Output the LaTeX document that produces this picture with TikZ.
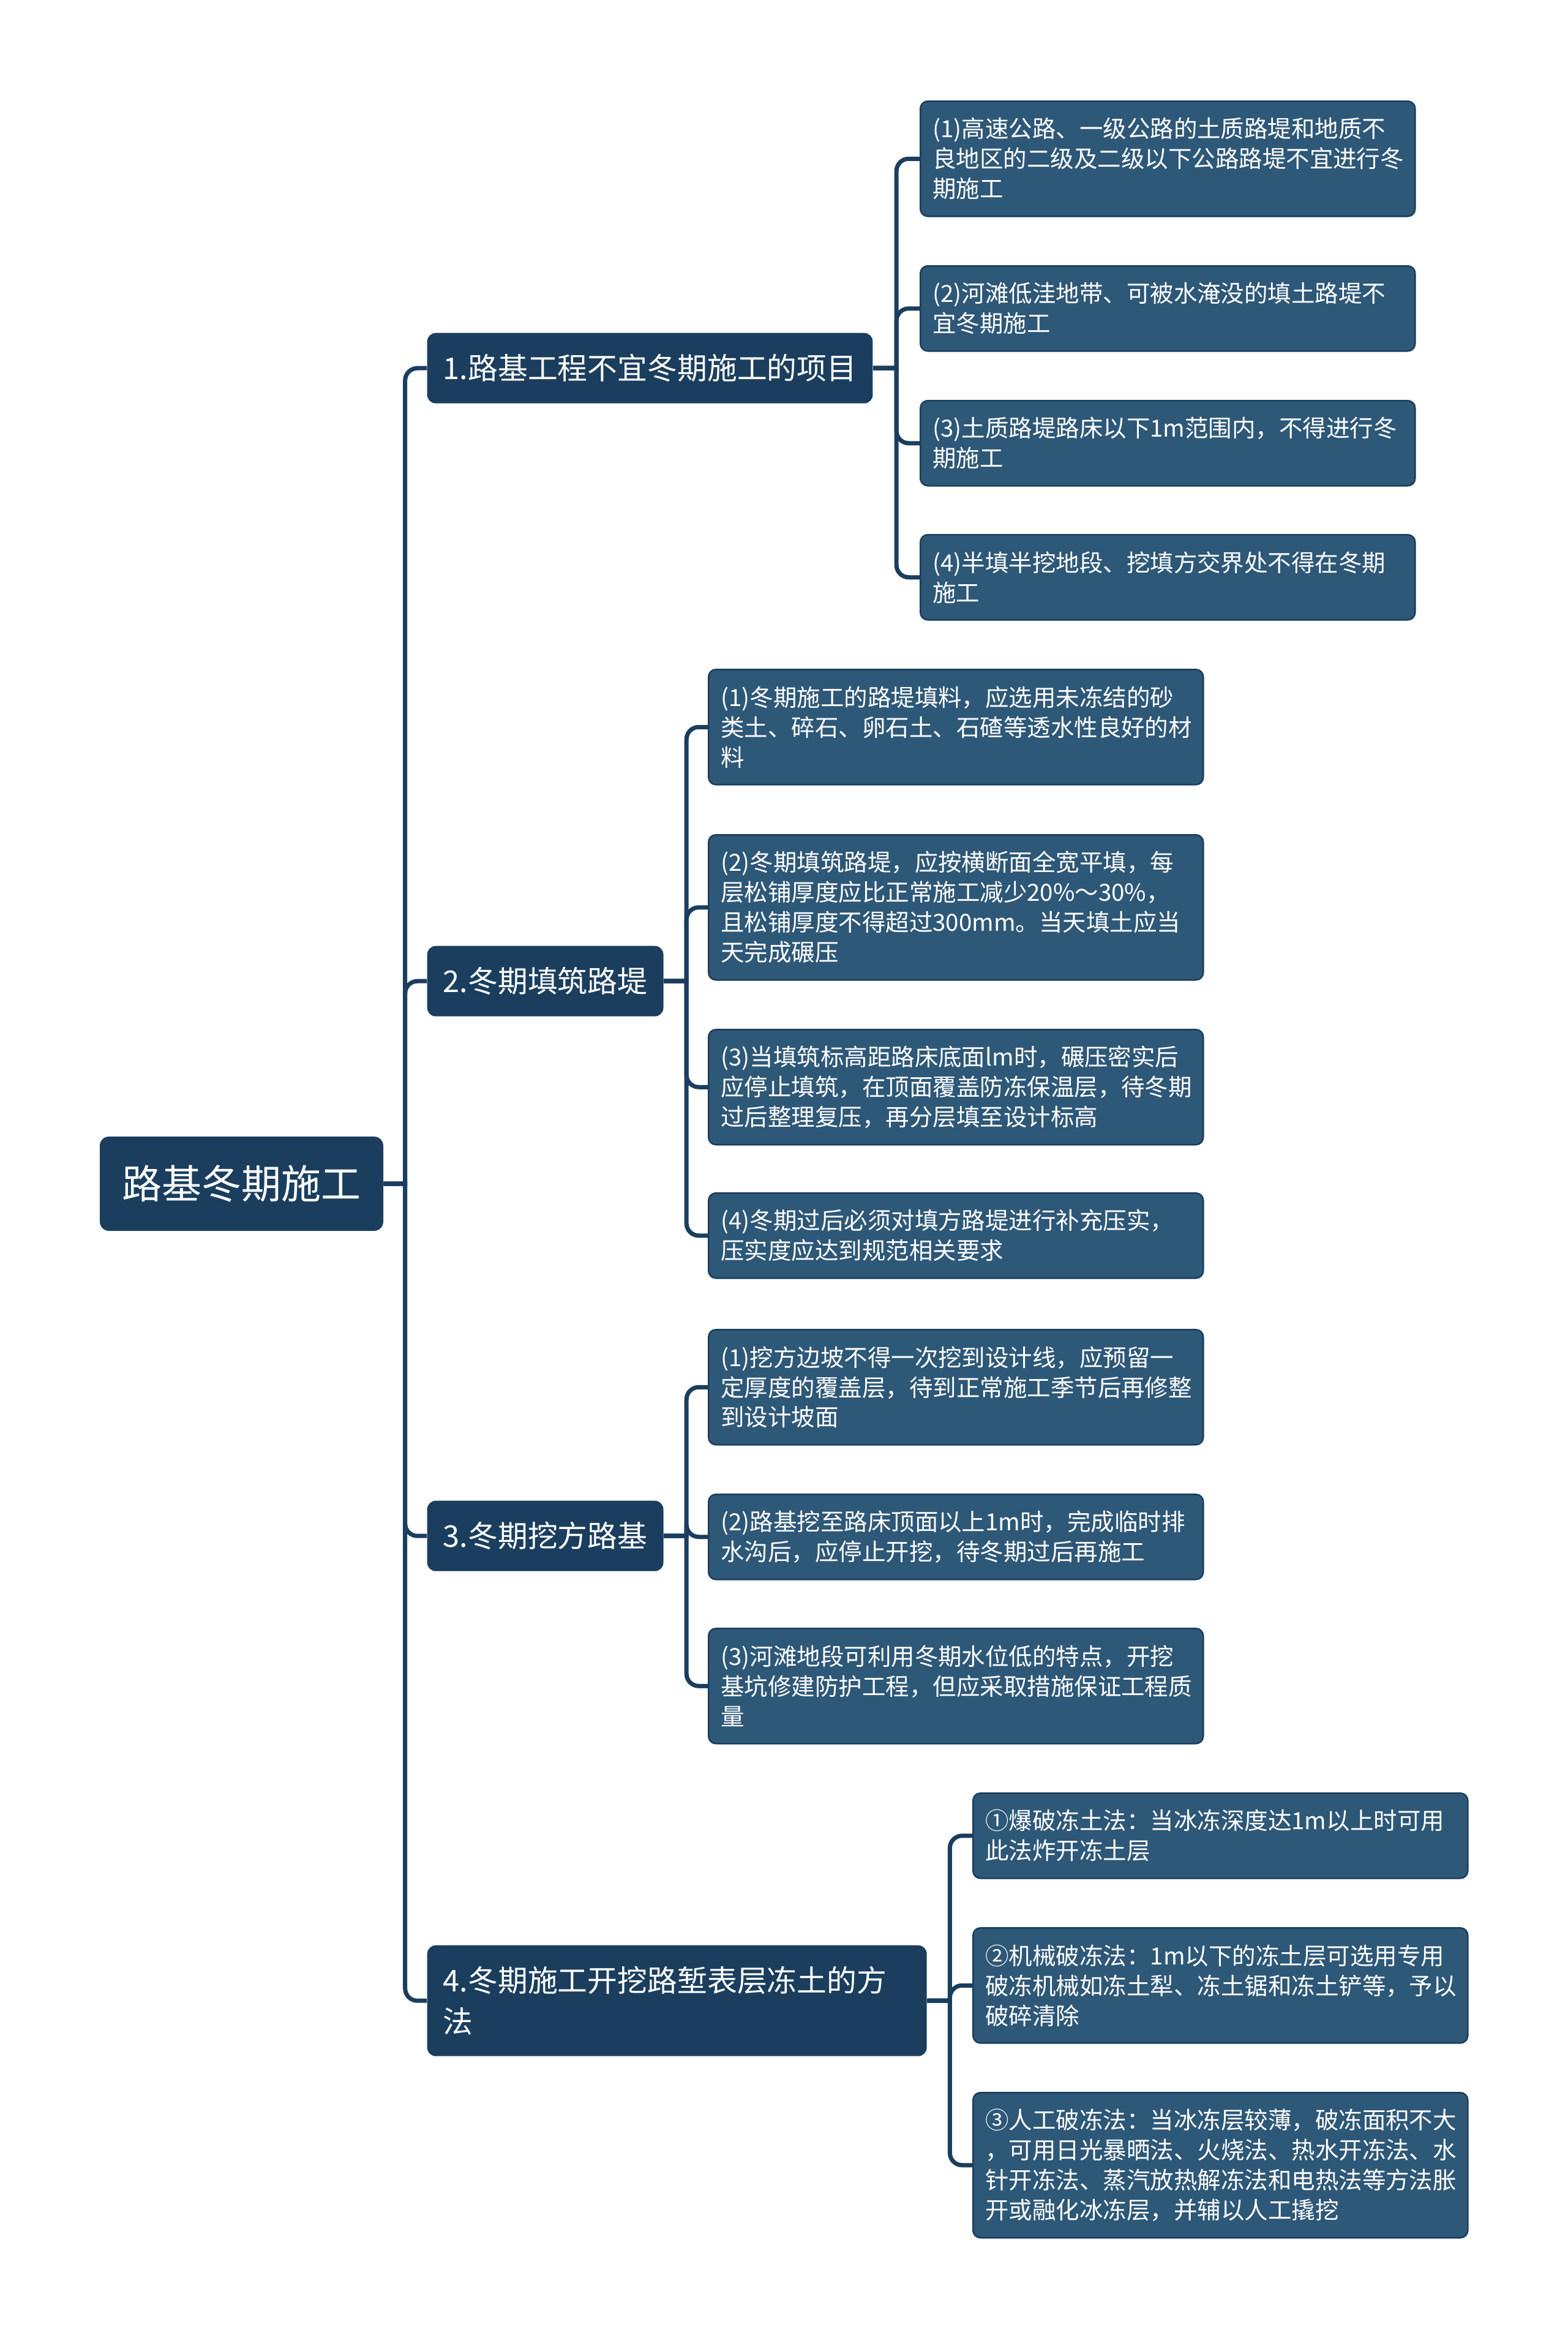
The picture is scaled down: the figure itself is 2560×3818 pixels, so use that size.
\documentclass[tikz,border=0pt]{standalone}
\usepackage{fontspec}
\setmainfont{Noto Sans CJK SC}
\usepackage{xcolor}
\usepackage{tikz}
\usetikzlibrary{positioning}

\definecolor{rootblue}{HTML}{1B3E5E}
\definecolor{itemblue}{HTML}{2E5878}
\definecolor{linkblue}{HTML}{1B3E5E}

\begin{document}
\begin{tikzpicture}[
  x=0.1mm, y=-0.1mm,
  root/.style={fill=rootblue, text=white, rounded corners=1.5mm, inner sep=0pt,
    minimum width=46.3mm, minimum height=15.4mm, font=\fontsize{18.5}{22}\selectfont},
  topic/.style={fill=rootblue, text=white, rounded corners=1.4mm, anchor=north west, align=left,
    inner xsep=2.6mm, inner ysep=0pt, minimum height=11.5mm, font=\fontsize{13.9}{18.8}\selectfont},
  item/.style={fill=itemblue, draw=linkblue, line width=0.25mm, text=white, rounded corners=1.2mm,
    anchor=north west, align=left, text width=76.8mm, inner xsep=2mm, inner ysep=0pt,
    minimum height={#1*4.9mm+4.1mm}, font=\fontsize{10.95}{13.94}\selectfont},
  link/.style={draw=linkblue, line width=0.7mm}
]
  \useasboundingbox (0,0) rectangle (2560,3818);

  \node[root] (root) at (394.5,1933) {路基冬期施工};

  \node[topic] (t1) at (697,543) {1.路基工程不宜冬期施工的项目};
  \node[topic] (t2) at (697,1544) {2.冬期填筑路堤};
  \node[topic] (t3) at (697,2450) {3.冬期挖方路基};
  \node[topic, text width=76.4mm, minimum height=18.1mm] (t4) at (697,3176) {4.冬期施工开挖路堑表层冻土的方\\法};

  % 1. items
  \node[item=3] (a1) at (1502,164) {(1)高速公路、一级公路的土质路堤和地质不\\良地区的二级及二级以下公路路堤不宜进行冬\\期施工};
  \node[item=2] (a2) at (1502,433) {(2)河滩低洼地带、可被水淹没的填土路堤不\\宜冬期施工};
  \node[item=2] (a3) at (1502,653) {(3)土质路堤路床以下1m范围内，不得进行冬\\期施工};
  \node[item=2] (a4) at (1502,872) {(4)半填半挖地段、挖填方交界处不得在冬期\\施工};

  % 2. items
  \node[item=3] (b1) at (1156,1092) {(1)冬期施工的路堤填料，应选用未冻结的砂\\类土、碎石、卵石土、石碴等透水性良好的材\\料};
  \node[item=4] (b2) at (1156,1362) {(2)冬期填筑路堤，应按横断面全宽平填，每\\层松铺厚度应比正常施工减少20\%～30\%，\\且松铺厚度不得超过300mm。当天填土应当\\天完成碾压};
  \node[item=3] (b3) at (1156,1680) {(3)当填筑标高距路床底面lm时，碾压密实后\\应停止填筑，在顶面覆盖防冻保温层，待冬期\\过后整理复压，再分层填至设计标高};
  \node[item=2] (b4) at (1156,1947) {(4)冬期过后必须对填方路堤进行补充压实，\\压实度应达到规范相关要求};

  % 3. items
  \node[item=3] (c1) at (1156,2170) {(1)挖方边坡不得一次挖到设计线，应预留一\\定厚度的覆盖层，待到正常施工季节后再修整\\到设计坡面};
  \node[item=2] (c2) at (1156,2439) {(2)路基挖至路床顶面以上1m时，完成临时排\\水沟后，应停止开挖，待冬期过后再施工};
  \node[item=3] (c3) at (1156,2658) {(3)河滩地段可利用冬期水位低的特点，开挖\\基坑修建防护工程，但应采取措施保证工程质\\量};

  % 4. items
  \node[item=2] (d1) at (1588,2927) {①爆破冻土法：当冰冻深度达1m以上时可用\\此法炸开冻土层};
  \node[item=3] (d2) at (1588,3147) {②机械破冻法：1m以下的冻土层可选用专用\\破冻机械如冻土犁、冻土锯和冻土铲等，予以\\破碎清除};
  \node[item=4] (d3) at (1588,3416) {③人工破冻法：当冰冻层较薄，破冻面积不大\\，可用日光暴晒法、火烧法、热水开冻法、水\\针开冻法、蒸汽放热解冻法和电热法等方法胀\\开或融化冰冻层，并辅以人工撬挖};

  % connectors
  \foreach \c in {t1,t2,t3,t4}
    \draw[link] (root.east) -- ++(35,0) [rounded corners=2mm] |- (\c.west);
  \foreach \c in {a1,a2,a3,a4}
    \draw[link] (t1.east) -- ++(38,0) [rounded corners=2mm] |- (\c.west);
  \foreach \c in {b1,b2,b3,b4}
    \draw[link] (t2.east) -- ++(37,0) [rounded corners=2mm] |- (\c.west);
  \foreach \c in {c1,c2,c3}
    \draw[link] (t3.east) -- ++(37,0) [rounded corners=2mm] |- (\c.west);
  \foreach \c in {d1,d2,d3}
    \draw[link] (t4.east) -- ++(37,0) [rounded corners=2mm] |- (\c.west);
\end{tikzpicture}
\end{document}
